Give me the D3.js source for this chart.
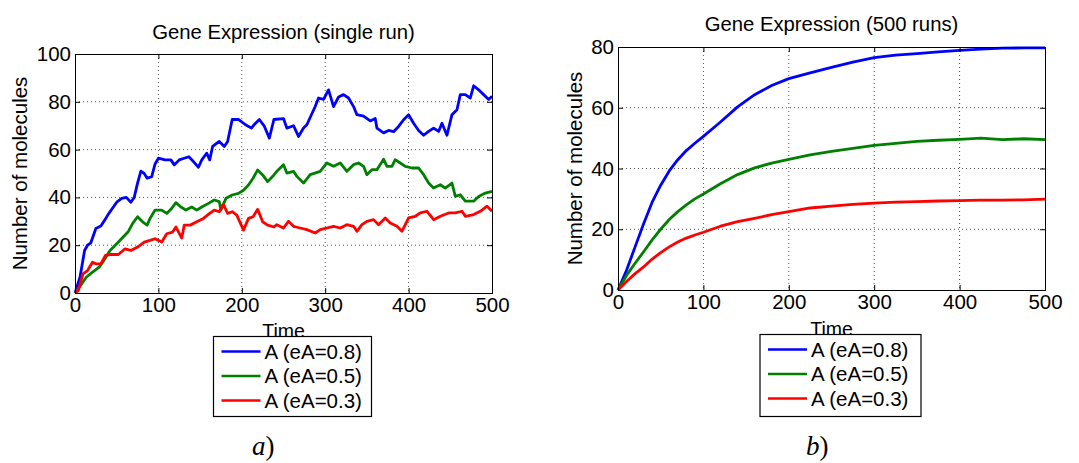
<!DOCTYPE html>
<html>
<head>
<meta charset="utf-8">
<script src="https://cdn.jsdelivr.net/npm/d3@7"></script>
<style>
  body { margin: 0; background: #fff; }
  svg { display: block; font-family: "Liberation Sans", Arial, sans-serif; }
</style>
</head>
<body>
<svg id="chart" width="1079" height="463"></svg>
<script>
// ---- single run (panel a) ----
const runTimeBlue = [0,6,11.5,15,19,25,31,36.5,40,46,50,56,61.5,67,71,75,79,83,86.5,92,96,100,108,115,119,125,131,136.5,142,148,152,158,161.5,165,173,179,183,188.5,196,204,211.5,215,221,227,233,238.5,250,254,262,268,274,278,284,288,292,298,304,310,316,322,328,334,338,346,354,360,362,370,376,382,388,394,400,406,412,418,424,430,436,440,446,452,458,462,468,474,478,484,490,496,500];
const runBlue = [0,6.6,17.8,20,21,27,28,31,33,36,38,39.6,40,38,40,46,51,50,48,48.7,54,56.4,55.7,55.7,53.6,55.7,56.4,57,55,52.6,55.7,58.5,55.7,61.3,63.4,61.3,63.4,72.6,72.6,70.5,69,70.5,72.6,69.8,64.8,72.6,73,69,70,65.5,69,70.4,75,78,81.6,81,85,78,82,83,81.6,78,74.6,74,72,73,69,67,68,67.5,69.7,72.5,74.6,71,68,66,67.6,69,67.6,71,66,74.6,76.7,83,83,81.6,86.7,85,83,81,82.3];

const runTimeGreen = [0,8,13.5,21,29,34.6,42,50,57.7,63.5,69,75,81,86.5,90,96,104,110,115,121,127,133,140,146,152,160,167,173,175,181,188.5,196,202,208,213.5,219,225,231,238.5,242,250,254,262,266,274,282,294,302,310,318,326,334,340,346,350,356,362,370,374,380,384,390,396,404,412,418,424,430,438,444,452,456,462,468,478,484,492,500];
const runGreen = [0,3.8,6.6,8.7,10.8,13.6,17.8,20.6,23.4,25.5,29,31.9,29.8,28.4,31.2,34.7,34.7,33.3,35,37.8,36,34.7,36,34.7,36,37.5,38.9,38.2,34.7,39.6,41,41.7,43,45.2,48,51.5,49.4,46.6,49.4,50.9,53.7,50.2,50.9,48.8,46,49.5,50.9,54.4,53,54.4,50.9,53.7,54.4,53,49.5,51.6,51.6,56,53,53,55.8,54.4,53,52.3,52.3,49.5,46,43.9,45.3,43.9,46,40.4,41.1,38.4,38.4,40.4,41.8,42.5];

const runTimeRed = [0,4,9.6,15,21,25,31,36.5,42,52,60,67,75,83,90,96,104,110,117,121,128,131,138,146,154,161.5,167,173,177.7,183,188.5,194,202,208,213.5,219,225,231,238.5,242,250,256,262,270,278,288,294,302,310,318,326,334,338,344,350,358,364,372,378,386,392,400,408,414,422,430,438,448,456,464,468,478,486,494,500];
const runRed = [0,1,8,9.4,12.9,12.2,12.2,15.7,16.1,16.1,18.5,17.8,19.2,21.3,22,22.7,21.3,24.8,25.5,27.6,23,28.4,28.4,29.8,31.2,33.3,34.7,34,37.2,33.3,34,32.6,26.3,31.2,31.9,35,29.8,28.4,27.6,28.6,27.2,30,27.9,27.2,26.5,25.1,26.5,27.2,27.9,27.2,28.6,27.9,25.8,28.6,30,30.7,28.6,31.4,29.3,27.9,25.8,31.4,32.1,33.5,34.2,30.7,32.1,33.5,33.5,34.2,32.1,32.8,34.2,36.3,34.2];

// ---- average of 500 runs (panel b) ----
const avgTime  = [0,10,20,30,40,50,60,70,80,90,100,120,140,160,180,200,225,250,275,300,325,350,375,400,425,450,475,500];
const avgBlue  = [0,6.5,14.2,21.8,28.9,34.5,39.2,42.9,45.9,48.3,50.6,55.3,60.3,64.3,67.3,69.6,71.5,73.3,75.0,76.5,77.3,77.8,78.4,78.9,79.3,79.6,79.7,79.7];
const avgGreen = [0,4.8,8.8,12.6,16.5,20.0,23.2,25.8,28.0,30.0,31.6,35.0,38.0,40.2,41.8,43.0,44.5,45.6,46.6,47.6,48.3,48.9,49.3,49.6,50.0,49.5,49.8,49.5];
const avgRed   = [0,2.8,5.4,7.6,10.2,12.3,14.2,15.8,17.1,18.1,19.0,21.0,22.5,23.6,24.8,25.8,27.0,27.6,28.2,28.6,28.9,29.1,29.3,29.4,29.6,29.6,29.7,29.9];

const seriesNames  = ["A (eA=0.8)", "A (eA=0.5)", "A (eA=0.3)"];
const seriesColors = ["#0000ff", "#008000", "#ff0000"];
const xTicks = [0, 100, 200, 300, 400, 500];

const svg = d3.select("#chart");
svg.append("rect").attr("width", 1079).attr("height", 463).attr("fill", "#fff");

function zip(ts, vs) { return ts.map((t, i) => [t, vs[i]]); }

function drawPanel(p) {
    const w = p.x1 - p.x0, h = p.y1 - p.y0;
    const x = d3.scaleLinear().domain([0, 500]).range([0, w]);
    const y = d3.scaleLinear().domain([0, p.ymax]).range([h, 0]);
    const yTicks = d3.range(0, p.ymax + 1, 20);

    const g = svg.append("g").attr("transform", `translate(${p.x0},${p.y0})`);

    // dotted grid
    g.append("g").selectAll("line").data(xTicks.slice(1, -1)).join("line")
        .attr("x1", d => x(d)).attr("x2", d => x(d)).attr("y1", 0).attr("y2", h)
        .attr("stroke", "#555").attr("stroke-width", 1).attr("stroke-dasharray", "1,3");
    g.append("g").selectAll("line").data(yTicks.slice(1, -1)).join("line")
        .attr("x1", 0).attr("x2", w).attr("y1", d => y(d)).attr("y2", d => y(d))
        .attr("stroke", "#555").attr("stroke-width", 1).attr("stroke-dasharray", "1,3");

    // data lines
    const line = d3.line().x(d => x(d[0])).y(d => y(d[1]));
    p.series.forEach((s, i) => {
        g.append("path").datum(s)
            .attr("d", line)
            .attr("fill", "none")
            .attr("stroke", seriesColors[i])
            .attr("stroke-width", 2.8)
            .attr("stroke-linejoin", "round");
    });

    // axes with inward ticks
    const fmt = d3.format("d");
    const ax = [
        g.append("g").attr("transform", `translate(0,${h})`).call(d3.axisBottom(x).tickValues(xTicks).tickSize(-5).tickPadding(4).tickFormat(fmt)),
        g.append("g").call(d3.axisLeft(y).tickValues(yTicks).tickSize(-5).tickPadding(4).tickFormat(fmt)),
        g.append("g").call(d3.axisTop(x).tickValues(xTicks).tickSize(-5).tickFormat("")),
        g.append("g").attr("transform", `translate(${w},0)`).call(d3.axisRight(y).tickValues(yTicks).tickSize(-5).tickFormat(""))
    ];
    ax.forEach(a => {
        a.select(".domain").attr("stroke", "#000");
        a.selectAll(".tick line").attr("stroke", "#000");
        a.selectAll("text").attr("font-size", 20.5).attr("fill", "#000")
            .attr("font-family", "Liberation Sans, Arial, sans-serif");
    });

    // title and labels
    svg.append("text").attr("x", p.x0 + w / 2).attr("y", p.titleY)
        .attr("text-anchor", "middle").attr("font-size", 20.3).text(p.title);
    svg.append("text").attr("x", p.x0 + w / 2).attr("y", p.timeY)
        .attr("text-anchor", "middle").attr("font-size", 19.5).text("Time");
    svg.append("text")
        .attr("transform", `translate(${p.ylabX},${p.y0 + h / 2}) rotate(-90)`)
        .attr("text-anchor", "middle").attr("font-size", 20.5).text("Number of molecules");

    // legend
    const lg = svg.append("g").attr("transform", `translate(${p.legend[0]},${p.legend[1]})`);
    lg.append("rect").attr("width", p.legend[2]).attr("height", p.legend[3])
        .attr("fill", "#fff").attr("stroke", "#000").attr("stroke-width", 1.2);
    seriesNames.forEach((name, i) => {
        const cy = 15 + i * 24.5;
        lg.append("line").attr("x1", 8).attr("x2", 47).attr("y1", cy).attr("y2", cy)
            .attr("stroke", seriesColors[i]).attr("stroke-width", 2.6);
        lg.append("text").attr("x", 51).attr("y", cy).attr("dy", "0.36em")
            .attr("font-size", 20.5).text(name);
    });

    // caption
    const cap = svg.append("text").attr("x", p.capX).attr("y", 455)
        .attr("font-family", "Liberation Serif, Times New Roman, serif").attr("font-size", 27);
    cap.append("tspan").attr("font-style", "italic").text(p.caption);
    cap.append("tspan").text(")");
}

drawPanel({
    x0: 75, x1: 492, y0: 54, y1: 293, ymax: 100,
    series: [zip(runTimeBlue, runBlue), zip(runTimeGreen, runGreen), zip(runTimeRed, runRed)],
    title: "Gene Expression (single run)", titleY: 38.5, timeY: 337.5, ylabX: 27,
    legend: [213.5, 336.5, 158, 80], caption: "a", capX: 252
});

drawPanel({
    x0: 618, x1: 1045, y0: 47, y1: 290, ymax: 80,
    series: [zip(avgTime, avgBlue), zip(avgTime, avgGreen), zip(avgTime, avgRed)],
    title: "Gene Expression (500 runs)", titleY: 30.5, timeY: 336, ylabX: 582,
    legend: [760, 334.5, 161, 82], caption: "b", capX: 806
});
</script>
</body>
</html>
